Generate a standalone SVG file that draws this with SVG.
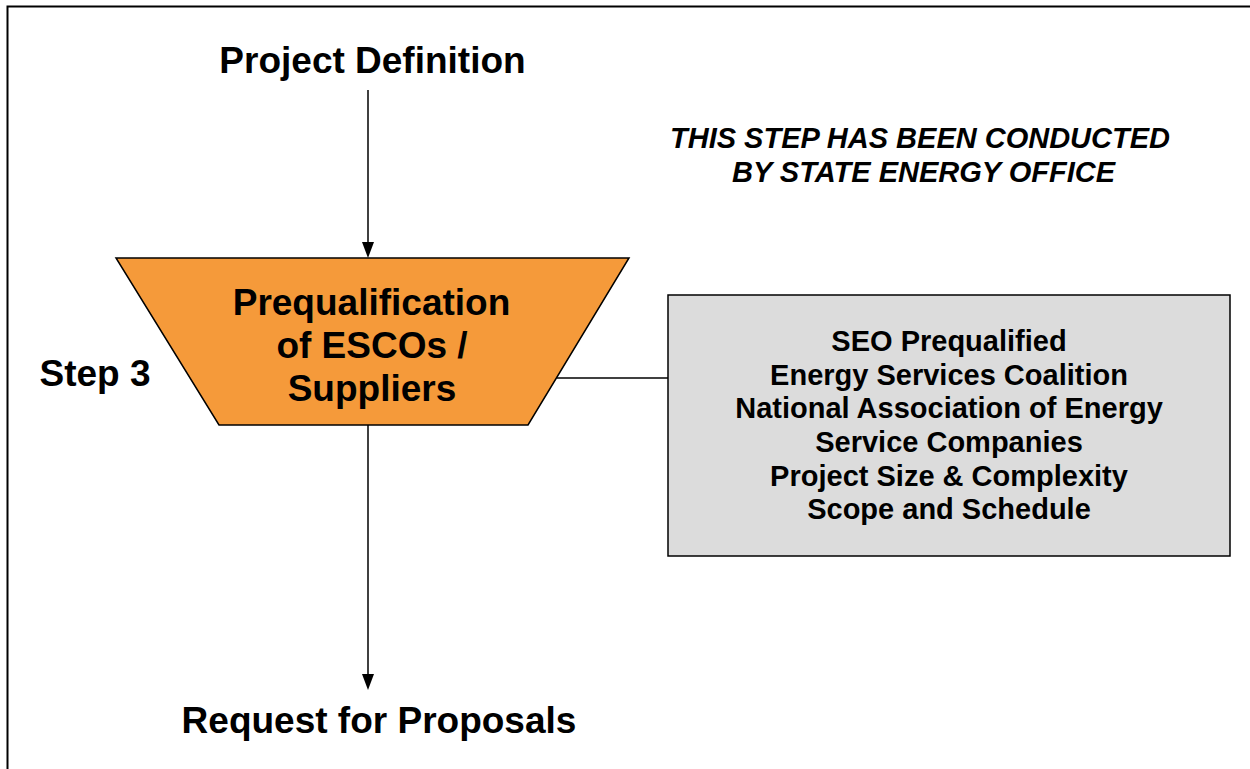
<svg xmlns="http://www.w3.org/2000/svg" width="1250" height="769" viewBox="0 0 1250 769">
<defs>
<style>
text{font-family:"Liberation Sans",Arial,sans-serif;font-weight:bold;fill:#000;text-anchor:middle}
.big{font-size:37px}
.box{font-size:29px}
.it{font-size:29px;font-style:italic}
.ln{stroke:#000;stroke-width:1.5;fill:none}
.ah{fill:#000}
</style>
</defs>
<rect x="0" y="0" width="1250" height="769" fill="#fff"/>
<rect x="7.5" y="6.5" width="1260" height="800" fill="none" stroke="#000" stroke-width="2"/>
<g id="connectors">
<line class="ln" x1="368" y1="90" x2="368" y2="244"/>
<path class="ah" d="M362,242 L374,242 L368,258 Z"/>
<line class="ln" x1="368" y1="425" x2="368" y2="676"/>
<path class="ah" d="M362,674 L374,674 L368,690 Z"/>
<line class="ln" x1="557" y1="378" x2="668" y2="378"/>
</g>
<g id="project-definition"><text class="big" x="372.5" y="73">Project Definition</text></g>
<g id="note"><text class="it" x="920" y="148">THIS STEP HAS BEEN CONDUCTED</text><text class="it" x="923.5" y="182">BY STATE ENERGY OFFICE</text></g>
<g id="step3"><text class="big" x="95" y="386">Step 3</text></g>
<g id="prequalification">
<polygon points="116,258 629,258 528,425 219,425" fill="#F59A3A" stroke="#000" stroke-width="1.5"/>
<text class="big" x="371.5" y="315">Prequalification</text>
<text class="big" x="372" y="358">of ESCOs /</text>
<text class="big" x="372" y="401">Suppliers</text>
</g>
<g id="criteria">
<rect x="668" y="295" width="562" height="261" fill="#DCDCDC" stroke="#000" stroke-width="1.5"/>
<text class="box" x="949" y="351">SEO Prequalified</text>
<text class="box" x="949" y="385">Energy Services Coalition</text>
<text class="box" x="949" y="418">National Association of Energy</text>
<text class="box" x="949" y="452">Service Companies</text>
<text class="box" x="949" y="486">Project Size &amp; Complexity</text>
<text class="box" x="949" y="519">Scope and Schedule</text>
</g>
<g id="request"><text class="big" x="379" y="733">Request for Proposals</text></g>
</svg>
